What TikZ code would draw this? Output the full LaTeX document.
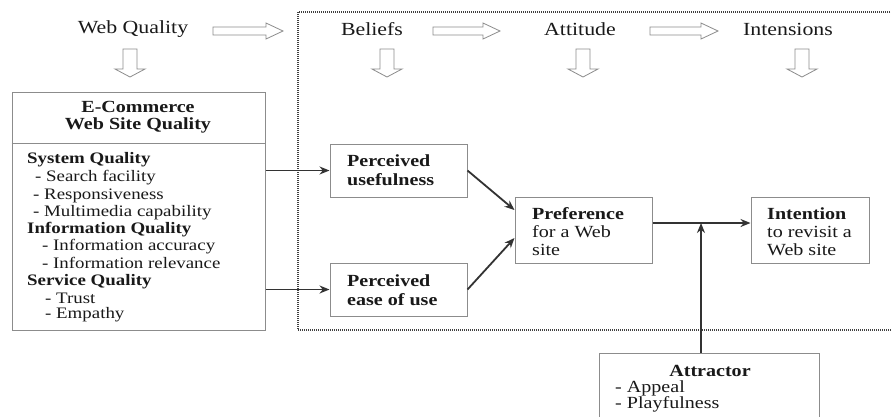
\documentclass[tikz,border=0pt]{standalone}
\usepackage{fontspec}
\setmainfont{Liberation Serif}[FakeStretch=1.18]
\usetikzlibrary{arrows.meta,calc}
\tikzset{
  boxed/.style={draw=black!45, line width=1pt, inner sep=0pt, fill=white},
  hdr/.style={font=\fontsize{18.5}{20}\selectfont, text=black!90, inner sep=0pt},
  txt/.style={font=\fontsize{16}{17.5}\selectfont, inner sep=0pt, anchor=west, text=black!90},
  btxt/.style={txt, font=\fontsize{16}{17.5}\selectfont\bfseries},
  itxt/.style={txt, font=\fontsize{17}{18}\selectfont},
  ibtxt/.style={txt, font=\fontsize{17}{18}\selectfont\bfseries},
  ctitle/.style={font=\fontsize{17}{18}\selectfont\bfseries, text=black!90, inner sep=0pt},
  conn/.style={line width=1.8pt, draw=black!80, -{Stealth[length=10pt,width=8pt]}},
  hollow/.style={draw=black!45, line width=0.8pt, fill=white},
  dotbox/.style={draw=black!75, line width=1.6pt, dash pattern=on 1pt off 1pt}
}
\begin{document}
\begin{tikzpicture}[x=1pt,y=-1pt]
\useasboundingbox (0,0) rectangle (891,416);
\fill[white] (0,0) rectangle (891,416);
% dotted frame
\draw[dotbox] (298,12) rectangle (900,330);
% headers
\node[hdr] (hwq) at (133,29) {Web Quality};
\node[hdr] (hbe) at (372,29) {Beliefs};
\node[hdr] (hat) at (580,29) {Attitude};
\node[hdr] (hin) at (788,29) {Intensions};
% hollow right arrows
\foreach \a/\b in {213/283, 433/500, 650/718}{
  \draw[hollow] (\a,27) -- (\b-17,27) -- (\b-17,23) -- (\b,31) -- (\b-17,39) -- (\b-17,35) -- (\a,35) -- cycle;
}
% hollow down arrows
\foreach \c in {130,387,583,802}{
  \draw[hollow] (\c-7,49) -- (\c+7,49) -- (\c+7,69) -- (\c+15,69) -- (\c,77) -- (\c-15,69) -- (\c-7,69) -- cycle;
}
% left box
\node[boxed, minimum width=253pt, minimum height=238pt] (lb) at (138.5,211) {};
\draw[black!45, line width=1pt] (lb.west |- 0,143) -- (lb.east |- 0,143);
\node[ctitle] (t1) at (138,107) {E-Commerce};
\node[ctitle] (t2) at (138,125) {Web Site Quality};
\node[btxt] (l1) at (27,160) {System Quality};
\node[txt] (l2) at (35,178) {- Search facility};
\node[txt] (l3) at (33,196) {- Responsiveness};
\node[txt] (l4) at (33,213) {- Multimedia capability};
\node[btxt] (l5) at (27,230) {Information Quality};
\node[txt] (l6) at (42,247) {- Information accuracy};
\node[txt] (l7) at (42,263) {- Information relevance};
\node[btxt] (l8) at (27,282) {Service Quality};
\node[txt] (l9) at (45,298) {- Trust};
\node[txt] (l10) at (45,315) {- Empathy};
% perceived usefulness
\node[boxed, minimum width=137pt, minimum height=53pt] (pu) at (398.5,170.5) {};
\node[ibtxt] (pu1) at (347,161) {Perceived};
\node[ibtxt] (pu2) at (347,180) {usefulness};
% perceived ease of use
\node[boxed, minimum width=137pt, minimum height=53pt] (pe) at (398.5,289.5) {};
\node[ibtxt] (pe1) at (347,281) {Perceived};
\node[ibtxt] (pe2) at (347,300) {ease of use};
% preference
\node[boxed, minimum width=137pt, minimum height=66pt] (pref) at (583.5,230) {};
\node[ibtxt] (pr1) at (532,214) {Preference};
\node[itxt] (pr2) at (532,232) {for a Web};
\node[itxt] (pr3) at (532,250) {site};
% intention
\node[boxed, minimum width=118pt, minimum height=66pt] (int) at (810,230) {};
\node[ibtxt] (in1) at (767,214) {Intention};
\node[itxt] (in2) at (767,232) {to revisit a};
\node[itxt] (in3) at (767,250) {Web site};
% attractor
\node[boxed, minimum width=220pt, minimum height=72pt] (attr) at (709,389) {};
\node[ctitle] (at1) at (710,371) {Attractor};
\node[itxt] (at2) at (615,388) {- Appeal};
\node[itxt] (at3) at (615,404) {- Playfulness};
% connectors
\draw[conn] (pu.west -| lb.east) -- (pu.west);
\draw[conn] (pe.west -| lb.east) -- (pe.west);
\draw[conn] (pu.east) -- ([yshift=20pt]pref.west);
\draw[conn] (pe.east) -- ([yshift=-8pt]pref.west);
\draw[conn] ([yshift=7pt]pref.east) -- ([yshift=7pt]int.west);
\coordinate (j) at (701,223);
\draw[conn] (j |- attr.north) -- (j);
\end{tikzpicture}
\end{document}
